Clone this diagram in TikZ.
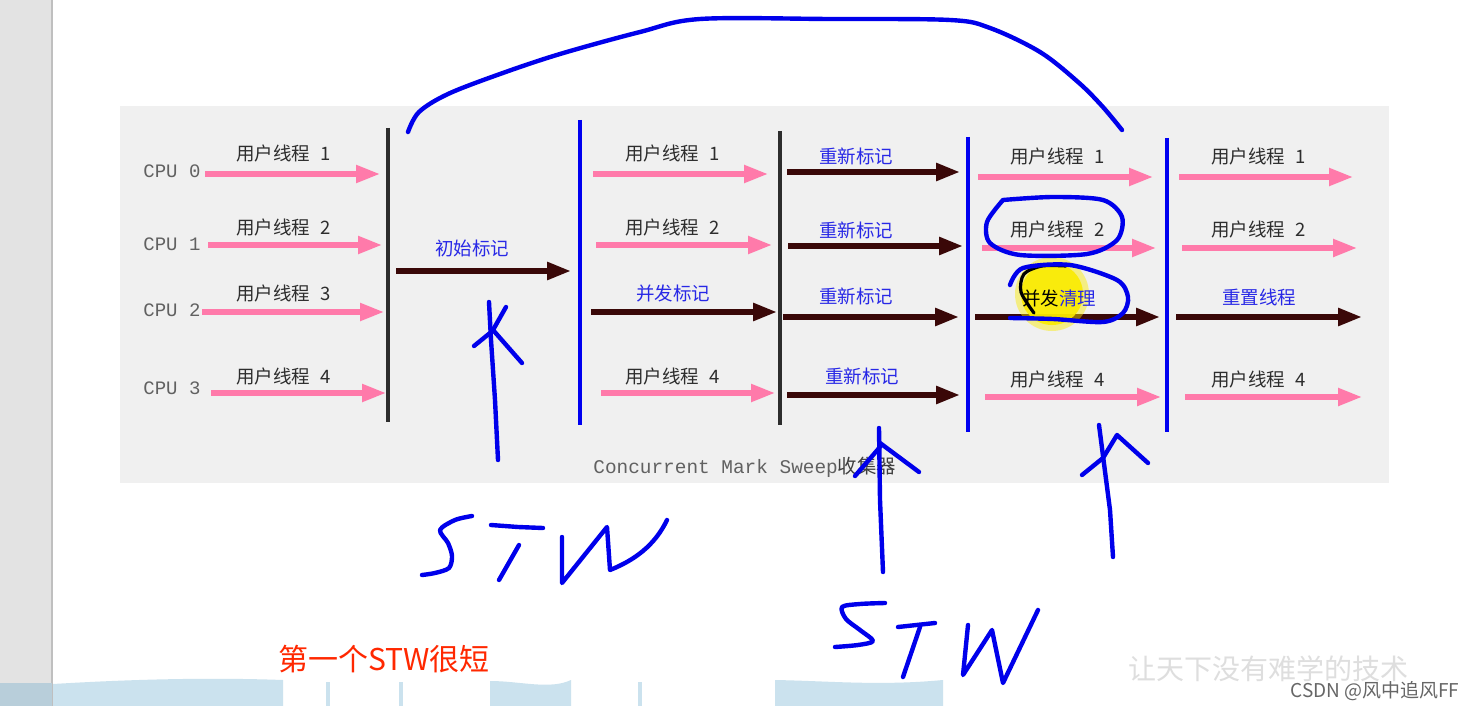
\documentclass[tikz,border=0pt]{standalone}
\usepackage{fontspec}
\newfontfamily\cjk{Noto Sans CJK SC}
\newfontfamily\mono{Liberation Mono}
\usetikzlibrary{arrows.meta}
\definecolor{pinkarr}{RGB}{255,122,170}
\definecolor{darkarr}{RGB}{58,8,8}
\definecolor{labelgray}{RGB}{45,45,45}
\definecolor{labelblue}{RGB}{40,40,230}
\definecolor{penblue}{RGB}{0,0,235}
\definecolor{barblue}{RGB}{0,0,240}
\definecolor{bardark}{RGB}{45,45,45}
\definecolor{panelgray}{RGB}{240,240,240}
\definecolor{stripgray}{RGB}{227,227,227}
\definecolor{bandblue}{RGB}{203,226,238}
\definecolor{bandblueD}{RGB}{184,206,218}
\definecolor{redtext}{RGB}{255,40,0}
\definecolor{hilite}{RGB}{250,235,0}
\tikzset{
  pinkflow/.style={draw=pinkarr, line width=2.6pt, -{Triangle[length=12pt,width=8.5pt]}},
  darkflow/.style={draw=darkarr, line width=2.8pt, -{Triangle[length=12pt,width=8.5pt]}},
  ulbl/.style={anchor=west, inner sep=0pt, font=\cjk\fontsize{9.25}{10}\selectfont, text=labelgray},
  blbl/.style={anchor=west, inner sep=0pt, font=\cjk\fontsize{9.25}{10}\selectfont, text=labelblue},
  cpulbl/.style={anchor=west, inner sep=0pt, font=\mono\fontsize{9.5}{11}\selectfont, text=black!62},
  darkbar/.style={draw=bardark, line width=2pt},
  bluebar/.style={draw=barblue, line width=2.3pt},
  pen/.style={draw=penblue, line width=2.2pt, line cap=round, line join=round},
}
% pink user-thread arrow with gray label
\newcommand\uflow[7]{%
  \coordinate (#1s) at (#2,#4);
  \coordinate (#1e) at (#3,#4);
  \draw[pinkflow] (#1s) -- (#1e);
  \node[ulbl] (#1l) at (#5,#6) {用户线程\hspace{0.55em}#7};
}
% dark GC arrow with blue label
\newcommand\gflow[7]{%
  \coordinate (#1s) at (#2,#4);
  \coordinate (#1e) at (#3,#4);
  \draw[darkflow] (#1s) -- (#1e);
  \node[blbl] (#1l) at (#5,#6) {#7};
}
\begin{document}
\begin{tikzpicture}[x=0.5pt,y=-0.5pt]
\useasboundingbox (0,0) rectangle (1478,706);
% screen background
\fill[white] (0,0) rectangle (1478,706);
\fill[stripgray] (0,0) rectangle (52,706);
\draw[black!25, line width=0.6pt] (52,0) -- (52,706);
% bottom band
\fill[bandblueD] (0,683) rectangle (52,706);
\fill[bandblue] (53,684) .. controls (120,680) and (200,677) .. (283,680) -- (283,706) -- (53,706) -- cycle;
\fill[bandblue] (326,682) rectangle (330,706);
\fill[bandblue] (399,682) rectangle (403,706);
\fill[bandblue] (490,681) .. controls (520,681) and (550,690) .. (571,680) -- (571,706) -- (490,706) -- cycle;
\fill[bandblue] (638,682) rectangle (642,706);
\fill[bandblue] (775,680) .. controls (830,681) and (880,686) .. (943,680) -- (943,706) -- (775,706) -- cycle;
% diagram panel
\fill[panelgray] (120,106) rectangle (1389,483);
% phase bars
\coordinate (b1t) at (388,128); \coordinate (b1b) at (388,422);
\coordinate (b2t) at (580,120); \coordinate (b2b) at (580,425);
\coordinate (b3t) at (780,131); \coordinate (b3b) at (780,425);
\coordinate (b4t) at (968,137); \coordinate (b4b) at (968,432);
\coordinate (b5t) at (1167,138); \coordinate (b5b) at (1167,432);
\draw[darkbar] (b1t) -- (b1b);
\draw[bluebar] (b2t) -- (b2b);
\draw[darkbar] (b3t) -- (b3b);
\draw[bluebar] (b4t) -- (b4b);
\draw[bluebar] (b5t) -- (b5b);
% CPU labels
\node[cpulbl] (cpu0) at (143,171) {CPU 0};
\node[cpulbl] (cpu1) at (143,244) {CPU 1};
\node[cpulbl] (cpu2) at (143,310) {CPU 2};
\node[cpulbl] (cpu3) at (143,388) {CPU 3};
% column 1
\uflow{a0}{205}{380}{174}{236}{153}{1}
\uflow{a1}{208}{382}{245}{236}{227}{2}
\uflow{a2}{202}{384}{312}{236}{293}{3}
\uflow{a3}{211}{386}{393}{236}{376}{4}
% column 2
\gflow{b2}{396}{571}{271}{435}{248}{初始标记}
% column 3
\uflow{c0}{593}{768}{174}{625}{153}{1}
\uflow{c1}{596}{772}{245}{625}{227}{2}
\gflow{c2}{591}{777}{312}{636}{293}{并发标记}
\uflow{c3}{601}{775}{393}{625}{376}{4}
% column 4
\gflow{d0}{787}{960}{172}{819}{156}{重新标记}
\gflow{d1}{788}{963}{246}{819}{230}{重新标记}
\gflow{d2}{783}{959}{317}{819}{296}{重新标记}
\gflow{d3}{787}{960}{395}{825}{376}{重新标记}
% column 5
\uflow{e0}{978}{1153}{177}{1010}{156}{1}
\uflow{e1}{982}{1156}{248}{1010}{229}{2}
\coordinate (e2s) at (975,317); \coordinate (e2e) at (1160,317);
\draw[darkflow] (e2s) -- (e2e);
\uflow{e3}{985}{1161}{397}{1010}{379}{4}
% column 6
\uflow{f0}{1179}{1353}{177}{1211}{156}{1}
\uflow{f1}{1182}{1357}{248}{1211}{229}{2}
\gflow{f2}{1176}{1362}{317}{1222}{297}{重置线程}
\uflow{f3}{1185}{1362}{397}{1211}{379}{4}
% caption
\node[anchor=west, inner sep=0pt, font=\mono\fontsize{9.7}{11}\selectfont, text=black!62] (cap) at (593,467) {Concurrent Mark Sweep{\cjk\color{black!75} 收集器}};
% yellow highlight and 并发清理
\fill[hilite, opacity=0.45] (1052,294) circle (37);
\fill[hilite, opacity=0.9] (1052,294) circle (31);
\node[blbl] (e2l) at (1022,298) {{\color{black}并发}清理};
\draw[black, line width=1.6pt, line cap=round] plot[smooth] coordinates {(1034,313) (1021,292) (1024,274) (1042,266) (1066,266)};
% hand-drawn annotations
\draw[pen] plot[smooth, tension=0.55] coordinates {(408,132) (419,112) (448,94) (500,74) (560,54) (640,32) (700,19) (830,19) (950,20) (990,28) (1040,52) (1078,82) (1102,106) (1122,130)};
\draw[pen] plot[smooth] coordinates {(1003,200) (1053,197) (1103,200) (1122,217) (1117,240) (1087,254) (1020,255) (990,243) (987,222) (1003,200)};
\draw[pen] plot[smooth] coordinates {(1010,285) (1023,268) (1070,265) (1117,280) (1128,297) (1123,313) (1103,322) (1053,319) (1010,318)};
% arrow 1 + STW
\draw[pen] (498,460) -- (495,400) -- (491,340) -- (489,302);
\draw[pen] (506,307) -- (493,330) -- (522,363);
\draw[pen] (474,346) -- (490,333);
\draw[pen] plot[smooth] coordinates {(472,516) (455,520) (440,530) (448,543) (452,556) (449,568) (435,573) (422,575)};
\draw[pen] (491,525) -- (518,527) -- (543,528);
\draw[pen] (519,545) -- (499,580);
\draw[pen] (562,537) -- (562,583) -- (607,527) -- (610,570) .. controls (635,560) and (655,545) .. (667,520);
% arrow 2 + STW
\draw[pen] (883,572) -- (880,500) -- (879,428);
\draw[pen] (855,476) -- (880,447);
\draw[pen] (880,443) -- (919,472);
\draw[pen] plot[smooth] coordinates {(885,603) (860,604) (842,607) (846,619) (860,630) (873,641) (858,645) (835,647)};
\draw[pen] (898,627) -- (935,623);
\draw[pen] (920,627) -- (903,677);
\draw[pen] (968,625) -- (963,675) -- (992,630) -- (1003,683) -- (1038,610);
% arrow 3
\draw[pen] (1113,557) -- (1110,510) -- (1099,425);
\draw[pen] (1082,475) -- (1103,458) -- (1117,435) -- (1148,463);
% bottom texts
\node[anchor=west, inner sep=0pt, font=\cjk\fontsize{15}{18}\selectfont, text=redtext] (note) at (278,659) {第一个STW很短};
\node[anchor=west, inner sep=0pt, font=\cjk\fontsize{14}{16}\selectfont, text=black!13] (wm) at (1128,669) {让天下没有难学的技术};
\node[anchor=west, inner sep=0pt, font=\cjk\fontsize{9.5}{11}\selectfont, text=black!60] (csdn) at (1290,691) {CSDN @风中追风FF};
\end{tikzpicture}
\end{document}
